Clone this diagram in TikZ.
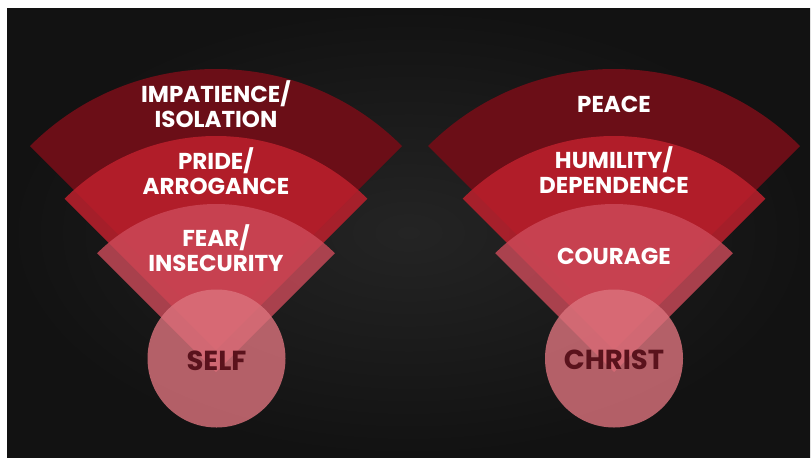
\documentclass[tikz,border=0pt]{standalone}
\usepackage{fontspec}
\newfontfamily\labelfont{Poppins}
\definecolor{bgin}{HTML}{242424}
\definecolor{bgout}{HTML}{121212}
\definecolor{outerc}{RGB}{107,14,23}
\definecolor{midc}{RGB}{190,32,45}
\definecolor{innerc}{RGB}{205,75,90}
\definecolor{circc}{RGB}{220,115,125}
\definecolor{circtext}{RGB}{90,18,28}
\begin{document}
\begin{tikzpicture}[x=1pt,y=-1pt,
  outerw/.style={fill=outerc},
  midw/.style={fill=midc,fill opacity=0.85},
  innerw/.style={fill=innerc,fill opacity=0.8},
  hub/.style={circle,fill=circc,fill opacity=0.8,text opacity=1,minimum size=138pt,inner sep=0pt},
  hubtext/.style={text=circtext,anchor=base,inner sep=0pt,
     font=\labelfont\bfseries\fontsize{27.5}{30}\selectfont},
  lab/.style={text=white,align=center,anchor=base,inner sep=0pt,
     font=\labelfont\bfseries\fontsize{23}{25}\selectfont}]
\useasboundingbox (0,0) rectangle (811,458);
\fill[white] (0,0) rectangle (811,458);
\shade[inner color=bgin,outer color=bgout] (7,8) rectangle (810,457);
% left fan
\fill[outerw] (216,332) -- ++(225:263) arc[start angle=225,end angle=315,radius=263] -- cycle;
\fill[midw] (216,350) -- ++(225:214) arc[start angle=225,end angle=315,radius=214] -- cycle;
\fill[innerw] (216,372) -- ++(225:168) arc[start angle=225,end angle=315,radius=168] -- cycle;
\node[hub] (self) at (216.5,358.5) {};
\node[hubtext] (selft) at (216.5,370) {SELF};
\node[lab] (l1) at (216,127.7) {IMPATIENCE/\\ISOLATION};
\node[lab] (l2) at (216,194.3) {PRIDE/\\ARROGANCE};
\node[lab] (l3) at (216,271.7) {FEAR/\\INSECURITY};
% right fan
\fill[outerw] (614,332) -- ++(225:263) arc[start angle=225,end angle=315,radius=263] -- cycle;
\fill[midw] (614,350) -- ++(225:214) arc[start angle=225,end angle=315,radius=214] -- cycle;
\fill[innerw] (614,372) -- ++(225:168) arc[start angle=225,end angle=315,radius=168] -- cycle;
\node[hub] (christ) at (614,358.5) {};
\node[hubtext] (christt) at (614,369.3) {CHRIST};
\node[lab] (r1) at (614,112.3) {PEACE};
\node[lab] (r2) at (614,193.3) {HUMILITY/\\DEPENDENCE};
\node[lab] (r3) at (614,264) {COURAGE};
\end{tikzpicture}
\end{document}
